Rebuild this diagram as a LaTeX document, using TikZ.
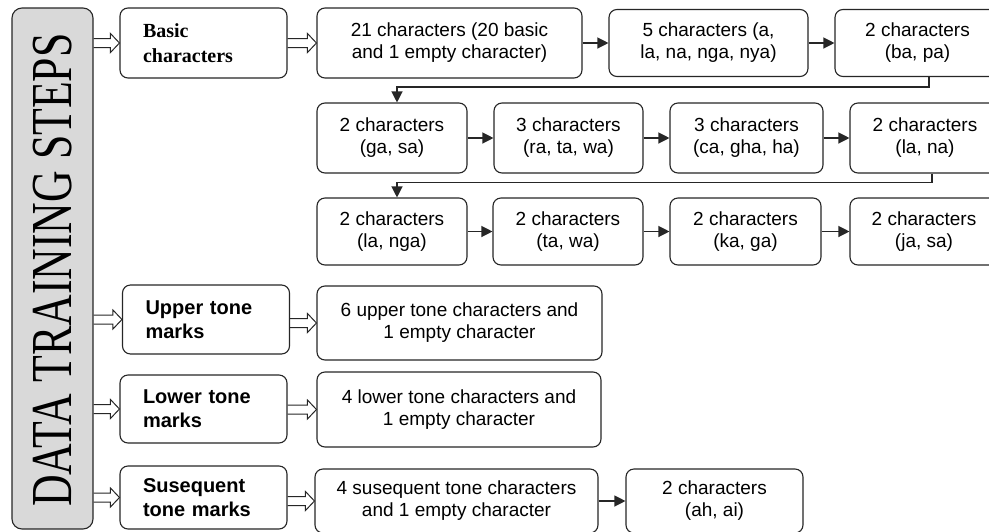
\documentclass[tikz,border=0pt]{standalone}
\usepackage{fontspec}
\usepackage{graphicx}
\usetikzlibrary{arrows.meta,calc}
\newfontfamily\sansf{Liberation Sans}
\newfontfamily\seriff{Liberation Serif}
\tikzset{
  box/.style={draw=black!85, line width=1.1pt, rounded corners=8pt, fill=white, align=center,
    inner sep=0pt, font=\sansf\fontsize{19}{22}\selectfont},
  headbox/.style={box, align=left, inner xsep=23pt, text width=121pt, font=\sansf\bfseries\fontsize{20}{24}\selectfont},
  barbox/.style={draw=black!85, line width=1.1pt, rounded corners=10pt, fill=black!15},
  arr/.style={draw=black!85, line width=1.2pt, -{Triangle[length=11pt,width=11pt]}},
  hollow/.style={draw=black!85, line width=1pt, line join=miter},
}
\newcommand\harrow[2]{\draw[hollow] let \p1=(#1), \p2=(#2) in
  (\x1,\y2+4.5pt) -- (\x2-9pt,\y2+4.5pt) -- (\x2-9pt,\y2+9.5pt) -- (\x2,\y2) --
  (\x2-9pt,\y2-9.5pt) -- (\x2-9pt,\y2-4.5pt) -- (\x1,\y2-4.5pt);}
\begin{document}
\begin{tikzpicture}[x=1pt,y=-1pt]
\useasboundingbox (0,0) rectangle (989,531);
\clip (0,0) rectangle (989,531);
% left bar
\node[barbox, minimum width=81pt, minimum height=521pt] (bar) at (52.5,268.5) {};
\node[rotate=90, inner sep=0pt, font=\seriff\fontsize{58}{58}\selectfont] (bartext) at (52.5,270)
  {\scalebox{0.755}[1]{DATA TRAINING STEPS}};
% head boxes
\node[headbox, minimum height=70pt, font=\seriff\bfseries\fontsize{20}{25}\selectfont] (basic) at (203.5,43) {Basic\\characters};
\node[headbox, minimum height=69pt] (upper) at (206,319.5) {Upper tone\\marks};
\node[headbox, minimum height=68pt] (lower) at (203.5,409) {Lower tone\\marks};
\node[headbox, minimum height=63pt] (sus) at (203.5,497.5) {Susequent\\tone marks};
% row 1
\node[box, minimum width=265pt, minimum height=70pt] (b21) at (449.5,43) {21 characters (20 basic\\and 1 empty character)};
\node[box, minimum width=199pt, minimum height=67pt] (b5) at (708.5,43) {5 characters (a,\\la, na, nga, nya)};
\node[box, minimum width=165pt, minimum height=67pt] (bba) at (917.5,43) {2 characters\\(ba, pa)};
% row 2
\node[box, minimum width=150pt, minimum height=70pt] (r2a) at (392,138) {2 characters\\(ga, sa)};
\node[box, minimum width=149pt, minimum height=70pt] (r2b) at (568.5,138) {3 characters\\(ra, ta, wa)};
\node[box, minimum width=153pt, minimum height=70pt] (r2c) at (746.5,138) {3 characters\\(ca, gha, ha)};
\node[box, minimum width=150pt, minimum height=70pt] (r2d) at (925,138) {2 characters\\(la, na)};
% row 3
\node[box, minimum width=150pt, minimum height=67pt] (r3a) at (392,231.5) {2 characters\\(la, nga)};
\node[box, minimum width=150pt, minimum height=67pt] (r3b) at (568,231.5) {2 characters\\(ta, wa)};
\node[box, minimum width=151pt, minimum height=67pt] (r3c) at (745.5,231.5) {2 characters\\(ka, ga)};
\node[box, minimum width=148pt, minimum height=67pt] (r3d) at (924,231.5) {2 characters\\(ja, sa)};
% tone rows
\node[box, minimum width=285pt, minimum height=74pt] (u6) at (459.5,323) {6 upper tone characters and\\1 empty character};
\node[box, minimum width=284pt, minimum height=75pt] (l4) at (459,409.5) {4 lower tone characters and\\1 empty character};
\node[box, minimum width=283pt, minimum height=64pt] (s4) at (456.5,501) {4 susequent tone characters\\and 1 empty character};
\node[box, minimum width=177pt, minimum height=64pt] (s2) at (714.5,501) {2 characters\\(ah, ai)};
% hollow arrows
\harrow{bar.east}{basic.west}
\harrow{basic.east}{b21.west}
\harrow{bar.east}{upper.west}
\harrow{upper.east}{u6.west}
\harrow{bar.east}{lower.west}
\harrow{lower.east}{l4.west}
\harrow{bar.east}{sus.west}
\harrow{sus.east}{s4.west}
% solid arrows
\draw[arr] (b21) -- (b5);
\draw[arr] (b5) -- (bba);
\draw[arr] (r2a) -- (r2b);
\draw[arr] (r2b) -- (r2c);
\draw[arr] (r2c) -- (r2d);
\draw[arr] (r3a) -- (r3b);
\draw[arr] (r3b) -- (r3c);
\draw[arr] (r3c) -- (r3d);
\draw[arr] (s4) -- (s2);
\draw[arr] ([xshift=11.5pt]bba.south) -- ++(0,10) -| ([xshift=5pt]r2a.north);
\draw[arr] ([xshift=7pt]r2d.south) -- ++(0,9) -| ([xshift=5pt]r3a.north);
\end{tikzpicture}
\end{document}
